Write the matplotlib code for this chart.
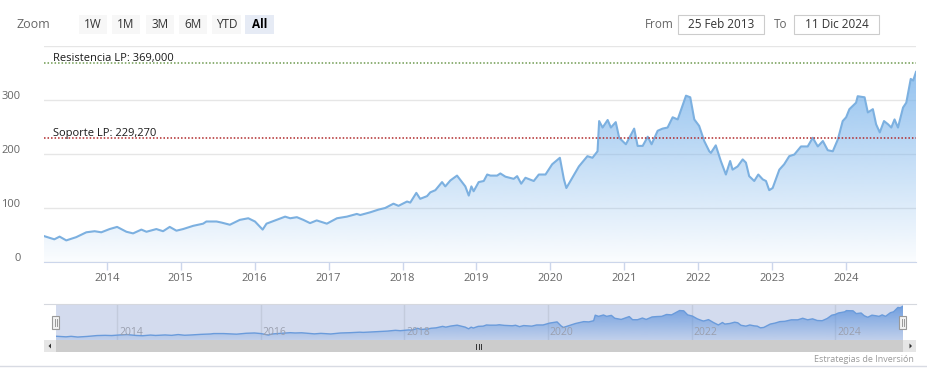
import matplotlib
matplotlib.use('Agg')
import matplotlib.pyplot as plt
import matplotlib.dates as mdates
from matplotlib.patches import Rectangle, Polygon
from matplotlib.transforms import ScaledTranslation
import numpy as np

plt.rcParams['font.family'] = ['Open Sans', 'DejaVu Sans']

# ---------------- data ----------------
dates = ["2013-02-25", "2013-04-17", "2013-05-13", "2013-06-15", "2013-08-03", "2013-09-22",
         "2013-11-02", "2013-12-05", "2014-01-15", "2014-02-21", "2014-04-08", "2014-05-11",
         "2014-06-21", "2014-07-16", "2014-09-03", "2014-10-06", "2014-11-08", "2014-12-11",
         "2015-01-13", "2015-03-04", "2015-04-22", "2015-05-08", "2015-06-27", "2015-07-22",
         "2015-09-01", "2015-10-20", "2015-12-01", "2016-01-03", "2016-02-10", "2016-02-29",
         "2016-04-19", "2016-05-31", "2016-06-25", "2016-07-28", "2016-08-29", "2016-10-01",
         "2016-11-03", "2016-12-23", "2017-02-11", "2017-04-01", "2017-05-20", "2017-06-06",
         "2017-07-25", "2017-09-04", "2017-10-07", "2017-11-17", "2017-12-12", "2018-01-23",
         "2018-02-08", "2018-03-10", "2018-03-29", "2018-05-02", "2018-05-18", "2018-06-12",
         "2018-07-15", "2018-07-31", "2018-08-25", "2018-09-27", "2018-10-22", "2018-11-07",
         "2018-11-24", "2018-12-07", "2018-12-18", "2019-01-12", "2019-02-06", "2019-02-23",
         "2019-03-11", "2019-04-13", "2019-04-29", "2019-05-24", "2019-07-04", "2019-07-21",
         "2019-08-10", "2019-08-31", "2019-10-11", "2019-11-05", "2019-12-08", "2020-01-10",
         "2020-02-17", "2020-03-08", "2020-03-20", "2020-04-09", "2020-05-21", "2020-07-02",
         "2020-07-27", "2020-08-21", "2020-08-29", "2020-09-15", "2020-10-10", "2020-10-26",
         "2020-11-19", "2020-12-06", "2021-01-08", "2021-02-18", "2021-03-07", "2021-04-01",
         "2021-04-26", "2021-05-15", "2021-06-14", "2021-07-08", "2021-08-02", "2021-08-27",
         "2021-09-21", "2021-11-01", "2021-11-22", "2021-12-12", "2022-01-05", "2022-01-30",
         "2022-02-24", "2022-03-04", "2022-03-28", "2022-04-22", "2022-05-17", "2022-06-07",
         "2022-06-19", "2022-07-14", "2022-08-08", "2022-08-24", "2022-09-09", "2022-10-04",
         "2022-10-24", "2022-11-15", "2022-12-01", "2022-12-17", "2023-01-03", "2023-02-05",
         "2023-03-01", "2023-03-26", "2023-04-20", "2023-05-23", "2023-06-25", "2023-07-20",
         "2023-08-14", "2023-09-08", "2023-10-02", "2023-10-27", "2023-11-21", "2023-12-15",
         "2024-01-01", "2024-01-17", "2024-02-19", "2024-02-27", "2024-04-01", "2024-04-17",
         "2024-05-12", "2024-05-28", "2024-06-15", "2024-07-06", "2024-07-26", "2024-08-11",
         "2024-08-27", "2024-09-13", "2024-10-08", "2024-10-24", "2024-11-15", "2024-11-27",
         "2024-12-11"]
prices = [48, 42, 47, 40, 46, 55, 57, 55, 61, 65, 56, 53,
          60, 56, 61, 57, 65, 58, 61, 67, 71, 75, 75, 73,
          69, 78, 81, 75, 60, 71, 78, 84, 81, 83, 78, 72,
          77, 71, 81, 84, 89, 87, 92, 97, 100, 108, 104, 112,
          110, 128, 117, 122, 129, 133, 148, 140, 151, 160, 148, 140,
          123, 140, 131, 148, 150, 162, 160, 160, 164, 158, 154, 159,
          145, 156, 150, 162, 162, 181, 193, 153, 137, 150, 177, 196,
          193, 205, 261, 249, 263, 249, 259, 230, 218, 247, 215, 215,
          232, 218, 243, 247, 249, 268, 264, 308, 305, 264, 252, 224,
          205, 202, 216, 187, 162, 187, 171, 177, 190, 184, 159, 150,
          162, 153, 150, 133, 137, 171, 181, 196, 199, 214, 214, 230,
          214, 224, 207, 205, 227, 261, 268, 283, 295, 307, 305, 277,
          283, 255, 240, 261, 255, 249, 264, 249, 286, 295, 339, 336,
          352]

resistencia_val = 369.000
soporte_val = 229.270
resistencia_lbl = "Resistencia LP: 369,000"
soporte_lbl = "Soporte LP: 229,270"
y_ticks = [0, 100, 200, 300, 400]
y_tick_labels = ["0", "100", "200", "300", ""]
zoom_buttons = ["1W", "1M", "3M", "6M", "YTD", "All"]
date_from = "25 Feb 2013"
date_to = "11 Dic 2024"
credit = "Estrategias de Inversión"

# ---------------- figure ----------------
W, H = 927, 382
fig = plt.figure(figsize=(W / 100, H / 100), dpi=100)
fig.patch.set_facecolor('white')

def fx(x):
    return x / W

def fy(y):
    return 1 - y / H

xd = mdates.date2num(np.array(dates, dtype='datetime64[D]'))
vals = np.array(prices, dtype=float)
x0, x1 = xd[0], xd[-1]

# ---------------- main chart ----------------
ax = fig.add_axes([fx(44), fy(262), (916 - 44) / W, (262 - 46) / H])
ax.set_xlim(x0, x1)
ax.set_ylim(0, 400)
ax.set_facecolor('none')
for s in ['top', 'right', 'left']:
    ax.spines[s].set_visible(False)
ax.spines['bottom'].set_color('#ccd6eb')
ax.set_yticks(y_ticks, labels=y_tick_labels)
ax.yaxis.grid(True, color='#e6e6e6', lw=1)
ax.set_axisbelow(True)
ax.tick_params(axis='y', length=0, pad=17, labelsize=8, labelcolor='#666666')
for lbl in ax.get_yticklabels():
    lbl.set_transform(lbl.get_transform() + ScaledTranslation(0, 5 / 100, fig.dpi_scale_trans))
ax.xaxis.set_major_locator(mdates.YearLocator())
ax.xaxis.set_major_formatter(mdates.DateFormatter('%Y'))
ax.tick_params(axis='x', length=6, width=1, color='#ccd6eb', pad=2, labelsize=8,
               labelcolor='#666666')

# gradient area
n = 256
rgba = np.zeros((n, 1, 4))
rgba[..., 0] = 124 / 255
rgba[..., 1] = 181 / 255
rgba[..., 2] = 236 / 255
rgba[..., 3] = np.linspace(0.03, 0.92, n).reshape(-1, 1)
im = ax.imshow(rgba, extent=[x0, x1, 0, 400], origin='lower', aspect='auto', zorder=1,
               interpolation='bilinear')
poly = Polygon(np.column_stack([np.r_[xd, x1, x0], np.r_[vals, 0, 0]]), closed=True,
               facecolor='none', edgecolor='none', transform=ax.transData)
ax.add_patch(poly)
im.set_clip_path(poly)
ax.plot(xd, vals, color='#7cb0e0', lw=1.5, zorder=3, solid_joinstyle='round')

# support / resistance lines
ax.axhline(resistencia_val, color='#6e9a50', lw=1.1, ls=(0, (1, 1.3)), zorder=4)
ax.axhline(soporte_val, color='#b0282a', lw=1.1, ls=(0, (1, 1.3)), zorder=4)
off = ScaledTranslation(0, 2 / 100, fig.dpi_scale_trans)
tr = ax.get_yaxis_transform()
ax.text((53 - 44) / 872, resistencia_val, resistencia_lbl, transform=tr + off,
        ha='left', va='baseline', fontsize=8, color='#1a1a1a', zorder=5)
ax.text((53 - 44) / 872, soporte_val, soporte_lbl, transform=tr + off,
        ha='left', va='baseline', fontsize=8, color='#1a1a1a', zorder=5)

# ---------------- navigator ----------------
axn = fig.add_axes([fx(56), fy(340), (903 - 56) / W, 36 / H])
axn.set_facecolor('#d3dbee')
axn.set_xlim(x0, x1)
axn.set_ylim(10, 374)
for s in axn.spines.values():
    s.set_visible(False)
axn.set_xticks([])
axn.set_yticks([])
nav_years = mdates.date2num(np.array(["2014-01-01", "2016-01-01", "2018-01-01",
                                      "2020-01-01", "2022-01-01", "2024-01-01"],
                                     dtype='datetime64[D]'))
for yv, lab in zip(nav_years, ["2014", "2016", "2018", "2020", "2022", "2024"]):
    axn.axvline(yv, color='#c3cbdc', lw=1, zorder=1)
    t = axn.text(yv, 0.22, lab, fontsize=7.5, color='#9a9fae', ha='left', va='center', zorder=4)
    t.set_transform(axn.get_xaxis_transform() + ScaledTranslation(2 / 100, 0, fig.dpi_scale_trans))
nrgba = np.zeros((n, 1, 4))
nrgba[..., 0] = 90 / 255
nrgba[..., 1] = 145 / 255
nrgba[..., 2] = 220 / 255
nrgba[..., 3] = np.linspace(0.15, 0.85, n).reshape(-1, 1)
im2 = axn.imshow(nrgba, extent=[x0, x1, 10, 374], origin='lower', aspect='auto', zorder=2,
                 interpolation='bilinear')
poly2 = Polygon(np.column_stack([np.r_[xd, x1, x0], np.r_[vals, 10, 10]]), closed=True,
                facecolor='none', edgecolor='none', transform=axn.transData)
axn.add_patch(poly2)
im2.set_clip_path(poly2)
axn.plot(xd, vals, color='#6a9bdb', lw=1, zorder=3)

# ---------------- overlay UI ----------------
ov = fig.add_axes([0, 0, 1, 1])
ov.set_xlim(0, W)
ov.set_ylim(H, 0)
ov.axis('off')
ov.patch.set_alpha(0)

ov.text(17, 24, "Zoom", ha='left', va='center', fontsize=9, color='#666666')
bx = [79, 112, 146, 179, 212, 245]
bw = [28, 28, 28, 28, 29, 29]
for x, w, lab in zip(bx, bw, zoom_buttons):
    sel = lab == "All"
    ov.add_patch(Rectangle((x, 15), w, 19, facecolor='#e6ebf5' if sel else '#f7f7f7',
                           edgecolor='none'))
    ov.text(x + w / 2, 24.5, lab, ha='center', va='center', fontsize=8.5,
            color='#000000' if sel else '#333333', fontweight='bold' if sel else 'normal')

ov.text(645, 24.5, "From", ha='left', va='center', fontsize=8.5, color='#666666')
ov.add_patch(Rectangle((678, 15), 86, 19, facecolor='white', edgecolor='#cccccc', lw=0.8))
ov.text(721, 24.5, date_from, ha='center', va='center', fontsize=8.5, color='#333333')
ov.text(774, 24.5, "To", ha='left', va='center', fontsize=8.5, color='#666666')
ov.add_patch(Rectangle((794, 15), 85, 19, facecolor='white', edgecolor='#cccccc', lw=0.8))
ov.text(836.5, 24.5, date_to, ha='center', va='center', fontsize=8.5, color='#333333')

# navigator outline
ov.plot([44, 916], [304, 304], color='#d5d8de', lw=0.8)

# handles
for hx in [56, 903]:
    ov.add_patch(Rectangle((hx - 3.5, 316), 7, 13, facecolor='#f2f2f2', edgecolor='#999999',
                           lw=0.8, zorder=5))
    ov.plot([hx - 1, hx - 1], [319, 326], color='#999999', lw=0.7, zorder=6)
    ov.plot([hx + 1, hx + 1], [319, 326], color='#999999', lw=0.7, zorder=6)

# scrollbar
ov.add_patch(Rectangle((44, 340), 872, 12, facecolor='#f2f2f2', edgecolor='none'))
ov.add_patch(Rectangle((56, 340), 847, 12, facecolor='#cccccc', edgecolor='none'))
ov.add_patch(Rectangle((44, 340), 12, 12, facecolor='#e6e6e6', edgecolor='none'))
ov.add_patch(Rectangle((903, 340), 13, 12, facecolor='#e6e6e6', edgecolor='none'))
ov.add_patch(Polygon([[48.5, 346], [51, 343.5], [51, 348.5]], closed=True, facecolor='#333333'))
ov.add_patch(Polygon([[912, 346], [909.5, 343.5], [909.5, 348.5]], closed=True, facecolor='#333333'))
for gx in [476.5, 479, 481.5]:
    ov.plot([gx, gx], [343.5, 349], color='#333333', lw=0.7)

ov.text(914, 359, credit, ha='right', va='center', fontsize=6.5, color='#999999')
ov.plot([0, W], [365.5, 365.5], color='#d8dbe3', lw=1)

fig.savefig('out.png', dpi=100, facecolor='white')
